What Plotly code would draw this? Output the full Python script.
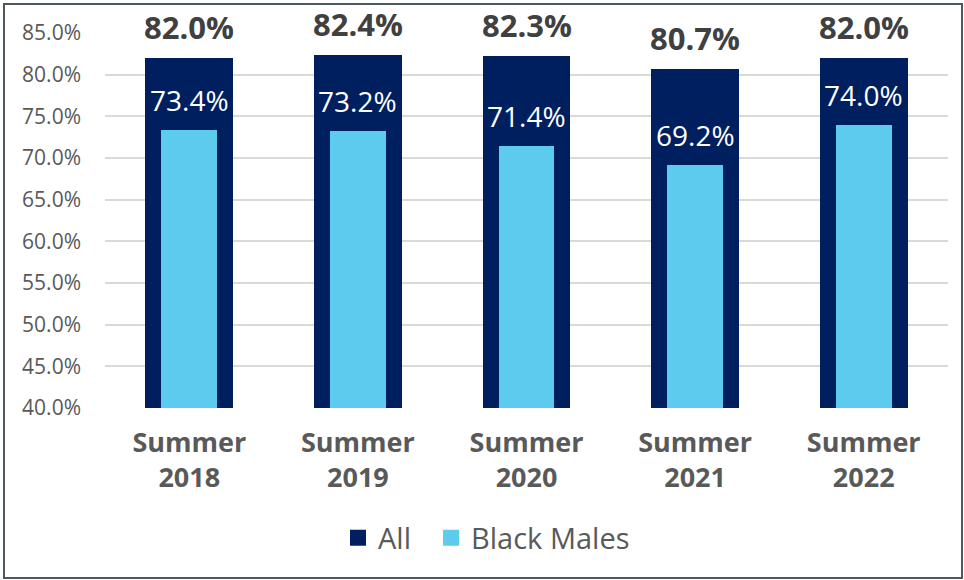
import plotly.graph_objects as go

categories = ["Summer<br>2018", "Summer<br>2019", "Summer<br>2020", "Summer<br>2021", "Summer<br>2022"]
all_vals = [82.0, 82.4, 82.3, 80.7, 82.0]
bm_vals = [73.4, 73.2, 71.4, 69.2, 74.0]
y_ticks = [40, 45, 50, 55, 60, 65, 70, 75, 80, 85]
series_names = ["All", "Black Males"]

NAVY = "#001F5F"
SKY = "#5DCBEE"
FONT = "Open Sans"

fig = go.Figure()
fig.add_trace(go.Bar(x=categories, y=all_vals, name=series_names[0], marker_color=NAVY,
                     width=0.52, marker_line_width=0, showlegend=False))
fig.add_trace(go.Bar(x=categories, y=bm_vals, name=series_names[1], marker_color=SKY,
                     width=0.33, marker_line_width=0, showlegend=False))
# legend entries with larger square swatches
for i, (nm, col) in enumerate(zip(series_names, [NAVY, SKY])):
    label = nm + ("\u00a0\u00a0" if i == 0 else "")
    fig.add_trace(go.Scatter(x=[None], y=[None], mode="markers", name=label,
                             marker=dict(symbol="square", size=17, color=col)))

annotations = []
for c, v in zip(categories, all_vals):
    annotations.append(dict(x=c, y=v, xref="x", yref="y", text=f"<b>{v:.1f}%</b>",
                            showarrow=False, yanchor="bottom", yshift=9,
                            font=dict(family=FONT, size=31, color="#404040"),
                            borderpad=0))
for c, v in zip(categories, bm_vals):
    annotations.append(dict(x=c, y=v, xref="x", yref="y", text=f"{v:.1f}%",
                            showarrow=False, yanchor="bottom", yshift=10,
                            font=dict(family=FONT, size=28, color="white"),
                            borderpad=0))

L, R, T, B = 105, 16, 33, 172
W, H = 964, 580
pw, ph = W - L - R, H - T - B

fig.update_layout(
    width=W, height=H,
    margin=dict(l=L, r=R, t=T, b=B),
    barmode="overlay",
    bargap=0,
    plot_bgcolor="white", paper_bgcolor="white",
    font=dict(family=FONT, color="#595959"),
    annotations=annotations,
    legend=dict(orientation="h", x=(338 - L) / pw, xanchor="left",
                y=(H - B - 538) / ph, yanchor="middle",
                font=dict(family=FONT, size=29, color="#595959"),
                itemsizing="trace"),
    shapes=[dict(type="rect", xref="paper", yref="paper",
                 x0=(4 - L) / pw, x1=(962 - L) / pw,
                 y0=(H - B - 578) / ph, y1=(H - B - 4) / ph,
                 line=dict(color="#4A5960", width=2), fillcolor="rgba(0,0,0,0)",
                 layer="below")],
)
fig.update_yaxes(range=[40, 85], tickvals=y_ticks, ticktext=[f"{v:.1f}%" for v in y_ticks],
                 showgrid=True, gridcolor="#D9D9D9", gridwidth=2, zeroline=False,
                 showline=False, ticklabelstandoff=23,
                 tickfont=dict(family=FONT, size=21, color="#595959"))
fig.update_xaxes(showgrid=False, showline=False, zeroline=False,
                 ticklabelstandoff=16,
                 tickfont=dict(family=FONT, size=27, color="#595959", weight="bold"))

fig.write_html("out.html")
